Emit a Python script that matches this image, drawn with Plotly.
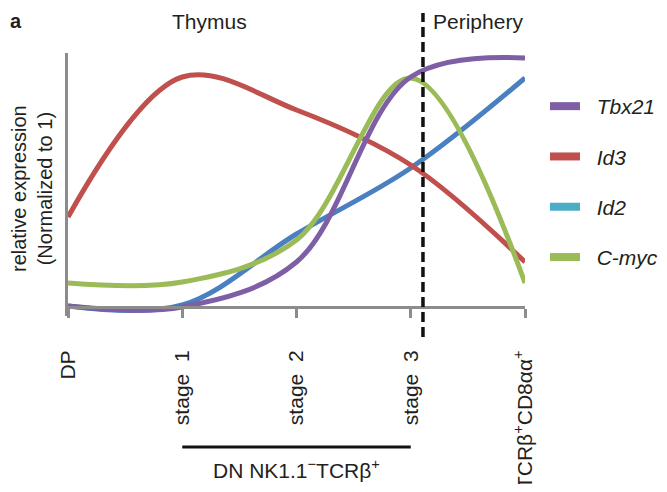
import plotly.graph_objects as go

# ---- data ----
x_pos = [0, 1, 2, 3, 4]
categories = ["DP", "stage \u00a01", "stage \u00a02", "stage \u00a03",
              "TCRβ<sup>+</sup>CD8αα<sup>+</sup>"]
series_names = ["Tbx21", "Id3", "Id2", "C-myc"]
tbx21 = [0.004, 0.0, 0.18, 0.92, 0.996]
id3 = [0.36, 0.92, 0.788, 0.568, 0.18]
id2 = [0.004, 0.008, 0.292, 0.556, 0.916]
cmyc = [0.096, 0.10, 0.268, 0.916, 0.096]
periphery_boundary = 3.107

line_colors = {"Tbx21": "#7E5FA6", "Id3": "#C0504D", "Id2": "#4A7FC1", "C-myc": "#9BBB59"}
legend_colors = {"Tbx21": "#7E5FA6", "Id3": "#C0504D", "Id2": "#4BACC6", "C-myc": "#9BBB59"}
values = {"Tbx21": tbx21, "Id3": id3, "Id2": id2, "C-myc": cmyc}
draw_order = ["Id2", "Id3", "C-myc", "Tbx21"]

FONT = "Liberation Sans, Arial, sans-serif"
TXT = "#231f20"
GRAY = "#8c8c8c"

fig = go.Figure()
for name in draw_order:
    fig.add_trace(go.Scatter(
        x=x_pos, y=values[name], mode="lines", showlegend=False,
        line=dict(color=line_colors[name], width=5, shape="spline", smoothing=1.0),
        hoverinfo="skip"))
# legend entries
for i, name in enumerate(series_names):
    fig.add_trace(go.Scatter(
        x=[None], y=[None], mode="lines", name=f"\u00a0\u00a0<i>{name}</i>",
        legendgroup=f"g{i}", line=dict(color=legend_colors[name], width=8)))

# page has an 8px body margin; geometry in page pixels: plot x 68..525, y 53..316
H = 263.0
def py(p):
    return (316 - p) / H
def px(p):
    return (p - 68) / 457.0

fig.update_layout(
    width=651, height=476,
    margin=dict(l=60, r=134, t=45, b=168, autoexpand=False),
    paper_bgcolor="white", plot_bgcolor="white",
    font=dict(family=FONT, size=21, color=TXT),
    xaxis=dict(range=[0, 4], anchor="free", position=9 / H,
               showline=True, linecolor=GRAY, linewidth=3,
               ticks="outside", ticklen=9, tickwidth=3, tickcolor=GRAY,
               tickvals=x_pos, ticktext=categories, tickangle=-90,
               ticklabelstandoff=24, tickfont=dict(size=21, color=TXT),
               showgrid=False, zeroline=False, automargin=False),
    yaxis=dict(range=[-0.036, 1.016], showline=True, linecolor=GRAY, linewidth=3,
               showticklabels=False, ticks="", showgrid=False, zeroline=False,
               automargin=False),
    legend=dict(x=px(545), xanchor="left", y=py(86), yanchor="top",
                font=dict(size=21, color=TXT), tracegroupgap=20,
                bgcolor="rgba(0,0,0,0)"),
    showlegend=True,
    shapes=[
        dict(type="line", xref="x", yref="paper", x0=periphery_boundary, x1=periphery_boundary,
             y0=py(337), y1=py(13), line=dict(color="#111111", width=3.5, dash="10px,5px")),
        dict(type="line", xref="x", yref="paper", x0=1, x1=3,
             y0=py(447), y1=py(447), line=dict(color="#111111", width=3)),
    ],
    annotations=[
        dict(text="<b>a</b>", xref="paper", yref="paper", x=px(8), y=py(8),
             xanchor="left", yanchor="top", showarrow=False, font=dict(size=20, color=TXT)),
        dict(text="Thymus", xref="paper", yref="paper", x=px(209), y=py(21),
             xanchor="center", yanchor="middle", showarrow=False),
        dict(text="Periphery", xref="paper", yref="paper", x=px(478), y=py(22),
             xanchor="center", yanchor="middle", showarrow=False),
        dict(text="DN NK1.1<sup>−</sup>TCRβ<sup>+</sup>", xref="x", yref="paper",
             x=2, y=py(469), xanchor="center", yanchor="middle", showarrow=False),
        dict(text="relative expression<br>(Normalized to 1)", xref="paper", yref="paper",
             x=px(32), y=py(189), xanchor="center", yanchor="middle", textangle=-90,
             showarrow=False, font=dict(size=20, color=TXT)),
    ],
)

fig.write_html("out.html")
